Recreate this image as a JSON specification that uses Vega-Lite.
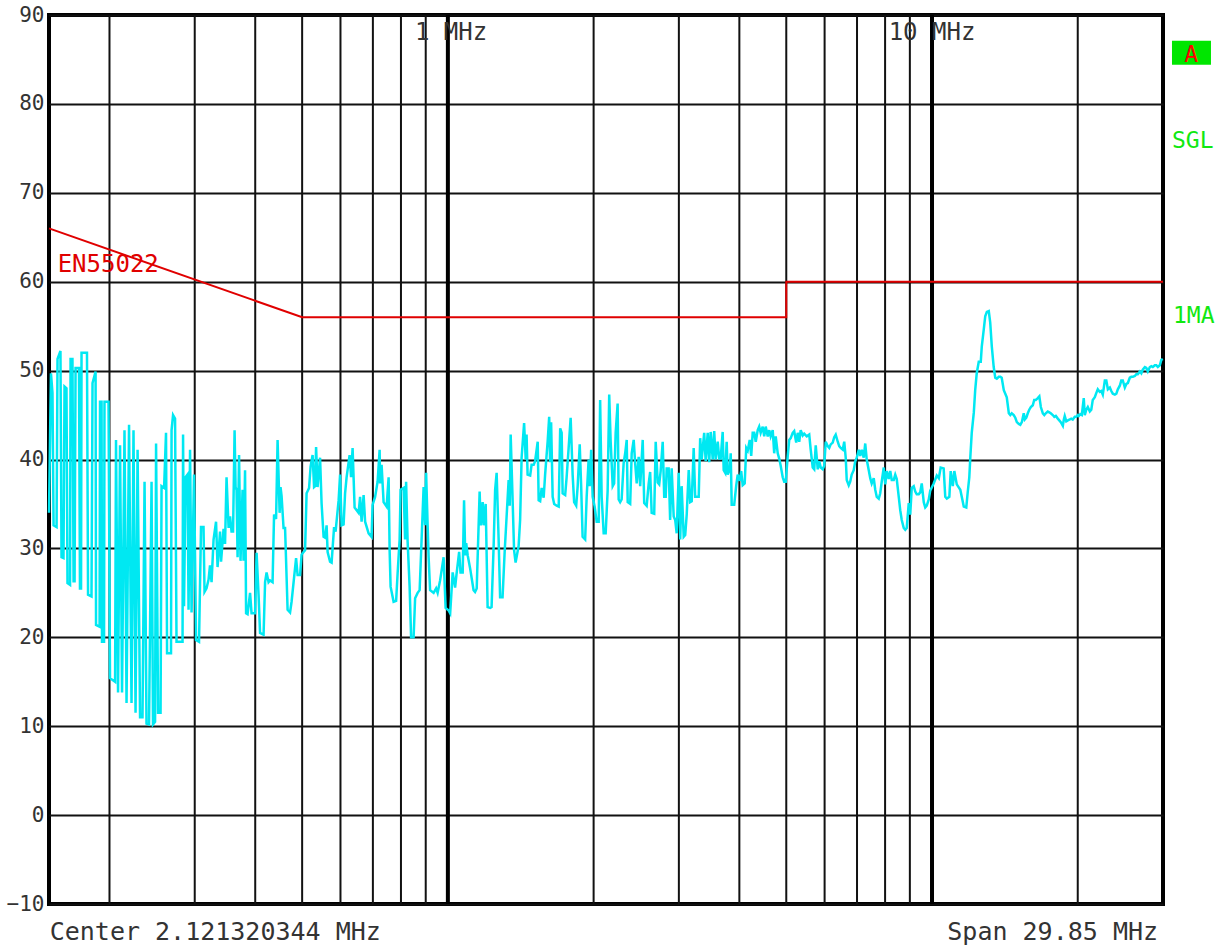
{
  "$schema": "https://vega.github.io/schema/vega-lite/v6.json",
  "width": 1114,
  "height": 889,
  "autosize": {"type": "none"},
  "padding": {"left": 49, "top": 15, "right": 63, "bottom": 45},
  "background": "white",
  "config": {"view": {"stroke": "#000", "strokeWidth": 4}, "font": "DejaVu Sans Mono"},
  "datasets": {
    "minor": [{"f":0.2},{"f":0.3},{"f":0.4},{"f":0.5},{"f":0.6},{"f":0.7},{"f":0.8},{"f":0.9},{"f":2},{"f":3},{"f":4},{"f":5},{"f":6},{"f":7},{"f":8},{"f":9},{"f":20}],
    "major": [{"f":1},{"f":10}],
    "limit": [{"i":0,"f":0.15,"v":66},{"i":1,"f":0.5,"v":56},{"i":2,"f":5,"v":56},{"i":3,"f":5,"v":60},{"i":4,"f":30,"v":60}],
    "trace": [
{"f":0.1500,"v":34.0},{"f":0.1514,"v":49.7},{"f":0.1525,"v":47.5},{"f":0.1533,"v":32.6},{"f":0.1555,"v":32.4},{"f":0.1562,"v":51.3},{"f":0.1584,"v":52.2},{"f":0.1592,"v":29.0},{"f":0.1607,"v":28.9},{"f":0.1615,"v":48.2},
{"f":0.1630,"v":48.0},{"f":0.1638,"v":26.1},{"f":0.1658,"v":25.9},{"f":0.1662,"v":51.3},{"f":0.1677,"v":51.3},{"f":0.1686,"v":26.3},{"f":0.1694,"v":26.3},{"f":0.1702,"v":50.3},{"f":0.1730,"v":50.3},{"f":0.1738,"v":25.5},
{"f":0.1747,"v":25.5},{"f":0.1751,"v":52.0},{"f":0.1797,"v":52.0},{"f":0.1806,"v":24.8},{"f":0.1836,"v":24.6},{"f":0.1845,"v":48.6},{"f":0.1872,"v":49.9},{"f":0.1876,"v":21.4},{"f":0.1908,"v":21.2},{"f":0.1912,"v":46.5},
{"f":0.1926,"v":46.5},{"f":0.1930,"v":19.5},{"f":0.1949,"v":19.5},{"f":0.1953,"v":46.5},{"f":0.1991,"v":46.5},{"f":0.2005,"v":15.4},{"f":0.2054,"v":15.0},{"f":0.2063,"v":42.2},{"f":0.2083,"v":13.8},{"f":0.2103,"v":41.6},
{"f":0.2123,"v":13.8},{"f":0.2148,"v":43.3},{"f":0.2169,"v":12.6},{"f":0.2195,"v":43.9},{"f":0.2221,"v":12.6},{"f":0.2242,"v":43.3},{"f":0.2264,"v":11.5},{"f":0.2286,"v":41.1},{"f":0.2313,"v":11.0},{"f":0.2340,"v":11.0},
{"f":0.2363,"v":37.5},{"f":0.2385,"v":10.3},{"f":0.2414,"v":10.2},{"f":0.2443,"v":37.5},{"f":0.2460,"v":10.2},{"f":0.2484,"v":10.5},{"f":0.2496,"v":41.8},{"f":0.2520,"v":11.5},{"f":0.2550,"v":11.5},{"f":0.2562,"v":37.0},
{"f":0.2593,"v":36.8},{"f":0.2617,"v":43.0},{"f":0.2630,"v":18.2},{"f":0.2680,"v":18.2},{"f":0.2687,"v":43.3},{"f":0.2706,"v":45.0},{"f":0.2732,"v":44.6},{"f":0.2751,"v":19.5},{"f":0.2831,"v":19.5},{"f":0.2838,"v":42.8},
{"f":0.2851,"v":23.5},{"f":0.2872,"v":38.0},{"f":0.2899,"v":38.3},{"f":0.2913,"v":23.1},{"f":0.2934,"v":41.1},{"f":0.2955,"v":22.8},{"f":0.2990,"v":38.3},{"f":0.3019,"v":19.7},{"f":0.3062,"v":19.5},{"f":0.3091,"v":32.4},
{"f":0.3128,"v":32.4},{"f":0.3143,"v":25.1},{"f":0.3173,"v":25.5},{"f":0.3204,"v":26.5},{"f":0.3226,"v":28.1},{"f":0.3250,"v":26.2},{"f":0.3281,"v":31.0},{"f":0.3320,"v":33.0},{"f":0.3344,"v":27.9},{"f":0.3384,"v":31.9},
{"f":0.3400,"v":28.5},{"f":0.3441,"v":32.2},{"f":0.3465,"v":30.5},{"f":0.3490,"v":38.0},{"f":0.3524,"v":32.3},{"f":0.3549,"v":33.6},{"f":0.3574,"v":31.9},{"f":0.3600,"v":31.9},{"f":0.3626,"v":43.3},{"f":0.3643,"v":36.9},
{"f":0.3660,"v":36.6},{"f":0.3678,"v":29.0},{"f":0.3704,"v":40.5},{"f":0.3730,"v":28.6},{"f":0.3766,"v":36.6},{"f":0.3784,"v":28.6},{"f":0.3811,"v":38.8},{"f":0.3830,"v":22.7},{"f":0.3857,"v":22.6},{"f":0.3903,"v":25.0},
{"f":0.3931,"v":22.7},{"f":0.3997,"v":22.7},{"f":0.4026,"v":29.5},{"f":0.4064,"v":24.8},{"f":0.4093,"v":20.5},{"f":0.4162,"v":20.3},{"f":0.4192,"v":26.2},{"f":0.4222,"v":27.3},{"f":0.4262,"v":26.2},{"f":0.4292,"v":26.4},
{"f":0.4344,"v":26.2},{"f":0.4375,"v":33.8},{"f":0.4417,"v":33.3},{"f":0.4449,"v":42.2},{"f":0.4492,"v":34.0},{"f":0.4512,"v":36.9},{"f":0.4534,"v":35.9},{"f":0.4577,"v":32.3},{"f":0.4610,"v":32.3},{"f":0.4666,"v":23.1},
{"f":0.4721,"v":22.8},{"f":0.4755,"v":24.0},{"f":0.4858,"v":28.9},{"f":0.4893,"v":27.0},{"f":0.4951,"v":27.0},{"f":0.4987,"v":29.3},{"f":0.5034,"v":29.6},{"f":0.5070,"v":29.8},{"f":0.5107,"v":36.2},{"f":0.5168,"v":36.8},
{"f":0.5205,"v":39.2},{"f":0.5255,"v":40.5},{"f":0.5292,"v":36.9},{"f":0.5318,"v":37.0},{"f":0.5343,"v":41.4},{"f":0.5381,"v":36.9},{"f":0.5445,"v":40.2},{"f":0.5484,"v":35.1},{"f":0.5537,"v":31.3},{"f":0.5577,"v":31.2},
{"f":0.5617,"v":32.6},{"f":0.5644,"v":29.6},{"f":0.5710,"v":28.5},{"f":0.5752,"v":28.4},{"f":0.5820,"v":32.4},{"f":0.5862,"v":31.9},{"f":0.5947,"v":35.4},{"f":0.5989,"v":38.3},{"f":0.6032,"v":32.6},{"f":0.6090,"v":32.7},
{"f":0.6133,"v":36.2},{"f":0.6177,"v":38.0},{"f":0.6266,"v":40.5},{"f":0.6310,"v":38.0},{"f":0.6356,"v":41.3},{"f":0.6386,"v":38.0},{"f":0.6417,"v":34.6},{"f":0.6540,"v":34.0},{"f":0.6587,"v":35.8},{"f":0.6634,"v":33.0},
{"f":0.6698,"v":36.0},{"f":0.6746,"v":33.0},{"f":0.6859,"v":31.7},{"f":0.6957,"v":31.3},{"f":0.6990,"v":34.9},{"f":0.7074,"v":35.8},{"f":0.7159,"v":37.5},{"f":0.7228,"v":41.1},{"f":0.7244,"v":37.3},{"f":0.7296,"v":39.4},
{"f":0.7366,"v":35.2},{"f":0.7472,"v":34.7},{"f":0.7544,"v":38.0},{"f":0.7580,"v":29.8},{"f":0.7615,"v":25.7},{"f":0.7725,"v":24.0},{"f":0.7818,"v":24.1},{"f":0.7874,"v":27.2},{"f":0.7949,"v":31.0},{"f":0.7986,"v":36.6},
{"f":0.8101,"v":36.8},{"f":0.8159,"v":31.0},{"f":0.8198,"v":37.5},{"f":0.8257,"v":30.8},{"f":0.8336,"v":25.7},{"f":0.8395,"v":20.0},{"f":0.8496,"v":20.0},{"f":0.8557,"v":24.4},{"f":0.8660,"v":25.0},{"f":0.8743,"v":25.3},
{"f":0.8825,"v":31.0},{"f":0.8910,"v":36.9},{"f":0.8974,"v":32.6},{"f":0.9017,"v":38.5},{"f":0.9082,"v":32.6},{"f":0.9125,"v":29.0},{"f":0.9189,"v":25.3},{"f":0.9344,"v":25.0},{"f":0.9456,"v":25.5},{"f":0.9524,"v":25.0},
{"f":0.9637,"v":26.4},{"f":0.9799,"v":29.0},{"f":0.9893,"v":23.3},{"f":1.004,"v":23.0},{"f":1.011,"v":22.7},{"f":1.023,"v":27.3},{"f":1.035,"v":25.6},{"f":1.042,"v":27.1},{"f":1.055,"v":29.6},{"f":1.062,"v":27.3},
{"f":1.073,"v":27.3},{"f":1.080,"v":35.4},{"f":1.086,"v":29.2},{"f":1.091,"v":30.6},{"f":1.099,"v":29.2},{"f":1.112,"v":27.7},{"f":1.130,"v":25.3},{"f":1.138,"v":25.1},{"f":1.147,"v":25.5},{"f":1.163,"v":36.4},
{"f":1.169,"v":32.6},{"f":1.180,"v":35.2},{"f":1.185,"v":32.6},{"f":1.197,"v":35.0},{"f":1.208,"v":23.4},{"f":1.223,"v":23.3},{"f":1.231,"v":23.4},{"f":1.243,"v":30.2},{"f":1.252,"v":36.6},{"f":1.261,"v":38.5},
{"f":1.273,"v":31.0},{"f":1.282,"v":24.5},{"f":1.297,"v":24.5},{"f":1.310,"v":29.6},{"f":1.322,"v":33.5},{"f":1.335,"v":37.7},{"f":1.342,"v":34.8},{"f":1.348,"v":42.8},{"f":1.361,"v":35.2},{"f":1.370,"v":29.8},
{"f":1.380,"v":28.4},{"f":1.400,"v":30.3},{"f":1.410,"v":33.2},{"f":1.420,"v":40.2},{"f":1.437,"v":44.1},{"f":1.448,"v":40.0},{"f":1.454,"v":42.8},{"f":1.461,"v":38.3},{"f":1.479,"v":38.2},{"f":1.489,"v":39.4},
{"f":1.504,"v":39.4},{"f":1.514,"v":39.8},{"f":1.533,"v":42.0},{"f":1.540,"v":35.4},{"f":1.551,"v":35.3},{"f":1.562,"v":36.8},{"f":1.577,"v":35.7},{"f":1.588,"v":38.3},{"f":1.607,"v":42.0},{"f":1.619,"v":44.8},
{"f":1.626,"v":39.7},{"f":1.634,"v":44.2},{"f":1.646,"v":35.8},{"f":1.658,"v":35.0},{"f":1.678,"v":34.8},{"f":1.694,"v":34.7},{"f":1.706,"v":43.5},{"f":1.718,"v":43.0},{"f":1.726,"v":36.2},{"f":1.747,"v":36.0},
{"f":1.759,"v":38.0},{"f":1.776,"v":41.3},{"f":1.793,"v":44.7},{"f":1.810,"v":38.3},{"f":1.823,"v":35.2},{"f":1.841,"v":34.8},{"f":1.854,"v":37.0},{"f":1.872,"v":41.7},{"f":1.885,"v":37.0},{"f":1.898,"v":31.3},
{"f":1.921,"v":31.0},{"f":1.935,"v":35.8},{"f":1.953,"v":40.0},{"f":1.963,"v":37.0},{"f":1.977,"v":41.1},{"f":1.991,"v":35.8},{"f":2.010,"v":34.7},{"f":2.029,"v":33.0},{"f":2.049,"v":33.0},{"f":2.063,"v":46.7},
{"f":2.078,"v":35.8},{"f":2.098,"v":31.7},{"f":2.118,"v":31.7},{"f":2.138,"v":36.5},{"f":2.154,"v":47.3},{"f":2.169,"v":42.0},{"f":2.190,"v":37.0},{"f":2.205,"v":37.3},{"f":2.221,"v":43.0},{"f":2.242,"v":46.3},
{"f":2.253,"v":35.5},{"f":2.269,"v":35.2},{"f":2.285,"v":35.5},{"f":2.307,"v":39.6},{"f":2.324,"v":40.7},{"f":2.341,"v":42.2},{"f":2.352,"v":35.2},{"f":2.380,"v":35.0},{"f":2.397,"v":40.7},{"f":2.420,"v":42.2},
{"f":2.437,"v":39.6},{"f":2.455,"v":37.3},{"f":2.478,"v":40.3},{"f":2.496,"v":37.0},{"f":2.526,"v":42.2},{"f":2.544,"v":35.1},{"f":2.574,"v":34.8},{"f":2.599,"v":37.3},{"f":2.617,"v":38.6},{"f":2.636,"v":34.0},
{"f":2.668,"v":33.9},{"f":2.687,"v":42.0},{"f":2.713,"v":37.4},{"f":2.732,"v":37.2},{"f":2.751,"v":38.7},{"f":2.778,"v":42.0},{"f":2.798,"v":35.8},{"f":2.818,"v":35.8},{"f":2.831,"v":39.0},{"f":2.858,"v":39.0},
{"f":2.878,"v":33.2},{"f":2.899,"v":39.0},{"f":2.927,"v":33.6},{"f":2.948,"v":33.2},{"f":2.969,"v":31.7},{"f":2.998,"v":38.5},{"f":3.019,"v":31.0},{"f":3.040,"v":37.0},{"f":3.070,"v":31.3},{"f":3.092,"v":31.5},
{"f":3.114,"v":33.8},{"f":3.144,"v":38.8},{"f":3.166,"v":35.2},{"f":3.189,"v":35.3},{"f":3.219,"v":41.3},{"f":3.242,"v":35.8},{"f":3.297,"v":35.8},{"f":3.320,"v":42.4},{"f":3.344,"v":40.0},{"f":3.384,"v":43.0},
{"f":3.408,"v":39.8},{"f":3.441,"v":43.0},{"f":3.466,"v":39.7},{"f":3.490,"v":43.1},{"f":3.524,"v":40.0},{"f":3.549,"v":43.2},{"f":3.574,"v":40.0},{"f":3.609,"v":42.0},{"f":3.635,"v":40.1},{"f":3.660,"v":40.1},
{"f":3.695,"v":43.1},{"f":3.713,"v":38.8},{"f":3.740,"v":38.5},{"f":3.766,"v":42.0},{"f":3.784,"v":38.3},{"f":3.821,"v":38.9},{"f":3.839,"v":40.7},{"f":3.857,"v":34.9},{"f":3.903,"v":34.9},{"f":3.941,"v":37.1},
{"f":3.969,"v":38.3},{"f":4.007,"v":37.6},{"f":4.035,"v":38.7},{"f":4.064,"v":37.1},{"f":4.103,"v":37.3},{"f":4.133,"v":41.3},{"f":4.162,"v":41.0},{"f":4.202,"v":42.2},{"f":4.232,"v":40.4},{"f":4.262,"v":43.0},
{"f":4.293,"v":43.0},{"f":4.324,"v":42.0},{"f":4.365,"v":43.3},{"f":4.396,"v":43.7},{"f":4.427,"v":43.0},{"f":4.470,"v":43.7},{"f":4.502,"v":42.6},{"f":4.534,"v":43.7},{"f":4.578,"v":42.6},{"f":4.611,"v":43.3},
{"f":4.643,"v":42.6},{"f":4.688,"v":43.3},{"f":4.721,"v":40.7},{"f":4.755,"v":42.6},{"f":4.801,"v":40.7},{"f":4.835,"v":40.1},{"f":4.869,"v":39.3},{"f":4.916,"v":38.0},{"f":4.951,"v":37.5},{"f":4.987,"v":37.5},
{"f":5.035,"v":40.4},{"f":5.071,"v":42.2},{"f":5.107,"v":42.4},{"f":5.155,"v":43.0},{"f":5.192,"v":43.2},{"f":5.242,"v":41.9},{"f":5.280,"v":43.0},{"f":5.318,"v":42.0},{"f":5.355,"v":43.3},{"f":5.407,"v":42.7},
{"f":5.445,"v":42.9},{"f":5.511,"v":42.6},{"f":5.577,"v":42.8},{"f":5.616,"v":41.1},{"f":5.670,"v":39.1},{"f":5.711,"v":38.9},{"f":5.752,"v":41.6},{"f":5.807,"v":38.9},{"f":5.849,"v":39.8},{"f":5.890,"v":39.1},
{"f":5.946,"v":38.9},{"f":5.989,"v":39.3},{"f":6.032,"v":42.0},{"f":6.090,"v":41.5},{"f":6.134,"v":41.3},{"f":6.177,"v":41.7},{"f":6.236,"v":41.9},{"f":6.281,"v":42.5},{"f":6.326,"v":42.8},{"f":6.387,"v":42.0},
{"f":6.432,"v":41.5},{"f":6.478,"v":41.3},{"f":6.540,"v":41.1},{"f":6.587,"v":42.0},{"f":6.634,"v":40.2},{"f":6.666,"v":37.7},{"f":6.730,"v":37.1},{"f":6.777,"v":37.5},{"f":6.826,"v":38.3},{"f":6.891,"v":38.8},
{"f":6.941,"v":39.8},{"f":6.991,"v":40.2},{"f":7.058,"v":41.1},{"f":7.107,"v":40.4},{"f":7.159,"v":41.1},{"f":7.227,"v":40.2},{"f":7.279,"v":41.8},{"f":7.331,"v":40.0},{"f":7.402,"v":38.8},{"f":7.454,"v":37.9},
{"f":7.507,"v":37.3},{"f":7.579,"v":37.9},{"f":7.634,"v":36.6},{"f":7.689,"v":35.8},{"f":7.762,"v":35.6},{"f":7.817,"v":36.2},{"f":7.873,"v":37.5},{"f":7.949,"v":39.1},{"f":8.006,"v":37.2},{"f":8.063,"v":38.7},
{"f":8.140,"v":37.8},{"f":8.198,"v":38.7},{"f":8.257,"v":37.7},{"f":8.336,"v":37.7},{"f":8.396,"v":38.3},{"f":8.456,"v":37.8},{"f":8.537,"v":35.8},{"f":8.597,"v":34.3},{"f":8.659,"v":33.2},{"f":8.742,"v":32.3},
{"f":8.805,"v":32.1},{"f":8.868,"v":32.3},{"f":8.953,"v":35.1},{"f":9.016,"v":33.8},{"f":9.081,"v":36.8},{"f":9.168,"v":37.0},{"f":9.234,"v":36.4},{"f":9.300,"v":36.1},{"f":9.389,"v":36.1},{"f":9.455,"v":36.3},
{"f":9.523,"v":37.3},{"f":9.615,"v":35.2},{"f":9.684,"v":34.6},{"f":9.753,"v":34.8},{"f":9.847,"v":35.5},{"f":9.916,"v":36.5},{"f":10.08,"v":37.3},{"f":10.23,"v":38.2},{"f":10.33,"v":37.9},{"f":10.42,"v":39.1},
{"f":10.57,"v":39.0},{"f":10.65,"v":35.8},{"f":10.73,"v":35.6},{"f":10.86,"v":35.8},{"f":10.93,"v":38.7},{"f":11.04,"v":37.0},{"f":11.12,"v":38.7},{"f":11.25,"v":37.2},{"f":11.44,"v":36.6},{"f":11.52,"v":35.8},
{"f":11.63,"v":34.7},{"f":11.77,"v":34.6},{"f":11.85,"v":36.3},{"f":11.94,"v":38.0},{"f":12.00,"v":40.3},{"f":12.08,"v":43.0},{"f":12.20,"v":45.3},{"f":12.28,"v":47.8},{"f":12.37,"v":49.7},{"f":12.49,"v":51.0},
{"f":12.61,"v":51.0},{"f":12.67,"v":52.7},{"f":12.79,"v":54.6},{"f":12.88,"v":56.1},{"f":12.98,"v":56.6},{"f":13.10,"v":56.7},{"f":13.19,"v":55.4},{"f":13.29,"v":52.7},{"f":13.41,"v":50.4},{"f":13.51,"v":49.2},
{"f":13.61,"v":49.1},{"f":13.74,"v":49.3},{"f":13.84,"v":49.3},{"f":13.93,"v":49.2},{"f":14.07,"v":47.8},{"f":14.17,"v":47.4},{"f":14.27,"v":47.0},{"f":14.41,"v":45.2},{"f":14.51,"v":45.0},{"f":14.61,"v":45.2},
{"f":14.75,"v":45.0},{"f":14.86,"v":44.7},{"f":14.97,"v":44.2},{"f":15.11,"v":44.0},{"f":15.22,"v":43.9},{"f":15.33,"v":44.2},{"f":15.47,"v":45.2},{"f":15.55,"v":44.5},{"f":15.66,"v":44.7},{"f":15.77,"v":45.2},
{"f":15.88,"v":45.6},{"f":16.00,"v":45.9},{"f":16.15,"v":46.1},{"f":16.26,"v":46.7},{"f":16.38,"v":46.7},{"f":16.54,"v":46.9},{"f":16.66,"v":47.1},{"f":16.78,"v":45.9},{"f":16.94,"v":45.2},{"f":17.06,"v":45.0},
{"f":17.18,"v":45.2},{"f":17.34,"v":45.4},{"f":17.47,"v":45.3},{"f":17.59,"v":45.2},{"f":17.76,"v":45.0},{"f":17.89,"v":44.8},{"f":18.02,"v":44.9},{"f":18.19,"v":44.6},{"f":18.32,"v":44.4},{"f":18.45,"v":44.2},
{"f":18.63,"v":43.8},{"f":18.72,"v":44.5},{"f":18.80,"v":44.9},{"f":18.94,"v":44.3},{"f":19.08,"v":44.4},{"f":19.26,"v":44.5},{"f":19.39,"v":44.6},{"f":19.53,"v":44.5},{"f":19.72,"v":44.8},{"f":19.86,"v":44.8},
{"f":20.01,"v":45.0},{"f":20.10,"v":44.9},{"f":20.24,"v":45.1},{"f":20.39,"v":45.0},{"f":20.58,"v":46.9},{"f":20.68,"v":45.0},{"f":20.83,"v":45.6},{"f":20.98,"v":45.9},{"f":21.18,"v":45.4},{"f":21.33,"v":45.6},
{"f":21.48,"v":46.7},{"f":21.69,"v":47.0},{"f":21.85,"v":47.5},{"f":22.00,"v":47.9},{"f":22.21,"v":47.6},{"f":22.37,"v":47.7},{"f":22.53,"v":47.3},{"f":22.75,"v":48.9},{"f":22.91,"v":48.9},{"f":23.08,"v":47.9},
{"f":23.30,"v":48.1},{"f":23.46,"v":47.7},{"f":23.63,"v":47.4},{"f":23.86,"v":47.3},{"f":24.03,"v":47.4},{"f":24.20,"v":47.9},{"f":24.43,"v":48.3},{"f":24.60,"v":48.9},{"f":24.78,"v":48.9},{"f":25.02,"v":48.1},
{"f":25.20,"v":48.5},{"f":25.38,"v":48.6},{"f":25.62,"v":49.2},{"f":25.80,"v":49.3},{"f":25.99,"v":49.3},{"f":26.24,"v":49.4},{"f":26.42,"v":49.6},{"f":26.61,"v":49.6},{"f":26.87,"v":49.9},{"f":27.06,"v":49.7},
{"f":27.25,"v":50.1},{"f":27.52,"v":50.4},{"f":27.71,"v":50.3},{"f":27.91,"v":49.9},{"f":28.18,"v":50.4},{"f":28.38,"v":50.5},{"f":28.58,"v":50.4},{"f":28.86,"v":50.6},{"f":29.06,"v":50.6},{"f":29.27,"v":50.4},
{"f":29.55,"v":50.6},{"f":29.76,"v":51.2},{"f":29.97,"v":51.3}
    ]
  },
  "layer": [
    {
      "data": {"name": "minor"},
      "mark": {"type": "rule", "color": "#111", "strokeWidth": 2},
      "encoding": {
        "x": {"field": "f", "type": "quantitative", "scale": {"type": "log", "domain": [0.15, 30], "nice": false}, "axis": null}
      }
    },
    {
      "data": {"name": "major"},
      "mark": {"type": "rule", "color": "#000", "strokeWidth": 4},
      "encoding": {
        "x": {"field": "f", "type": "quantitative", "axis": null}
      }
    },
    {
      "data": {"name": "limit"},
      "mark": {"type": "line", "color": "#e00000", "strokeWidth": 2},
      "encoding": {
        "x": {"field": "f", "type": "quantitative", "axis": null},
        "y": {"field": "v", "type": "quantitative", "scale": {"domain": [-10, 90], "nice": false, "zero": false},
              "axis": {"values": [-10,0,10,20,30,40,50,60,70,80,90], "grid": true, "gridColor": "#111", "gridWidth": 2, "gridOpacity": 1,
                       "domain": false, "ticks": false, "labelFontSize": 21, "labelColor": "#333", "labelPadding": 5, "labelFont": "DejaVu Sans Mono", "title": null}},
        "order": {"field": "i"}
      }
    },
    {
      "data": {"name": "trace"},
      "mark": {"type": "line", "color": "#00e8f2", "strokeWidth": 2.5},
      "encoding": {
        "x": {"field": "f", "type": "quantitative", "axis": null},
        "y": {"field": "v", "type": "quantitative"}
      }
    },
    {
      "data": {"values": [{"f": 31.31, "f2": 37.69, "v": 87.1, "v2": 84.4}]},
      "mark": {"type": "rect", "color": "#00e600"},
      "encoding": {
        "x": {"field": "f", "type": "quantitative", "axis": null},
        "x2": {"field": "f2"},
        "y": {"field": "v", "type": "quantitative"},
        "y2": {"field": "v2"}
      }
    },
    {
      "data": {"values": [{"t": "A", "f": 34.3, "v": 84.75}]},
      "mark": {"type": "text", "color": "#ff0000", "fontSize": 23, "align": "center", "baseline": "alphabetic", "font": "DejaVu Sans Mono"},
      "encoding": {
        "x": {"field": "f", "type": "quantitative", "axis": null},
        "y": {"field": "v", "type": "quantitative"},
        "text": {"field": "t"}
      }
    },
    {
      "data": {"values": [{"t": "SGL", "f": 31.31, "v": 75.0}, {"t": "1MA", "f": 31.46, "v": 55.4}]},
      "mark": {"type": "text", "color": "#11e811", "fontSize": 23, "align": "left", "baseline": "alphabetic", "font": "DejaVu Sans Mono"},
      "encoding": {
        "x": {"field": "f", "type": "quantitative", "axis": null},
        "y": {"field": "v", "type": "quantitative"},
        "text": {"field": "t"}
      }
    },
    {
      "data": {"values": [{"t": "EN55022", "f": 0.1563, "v": 61.1}]},
      "mark": {"type": "text", "color": "#e00000", "fontSize": 24, "align": "left", "baseline": "alphabetic", "font": "DejaVu Sans Mono"},
      "encoding": {
        "x": {"field": "f", "type": "quantitative", "axis": null},
        "y": {"field": "v", "type": "quantitative"},
        "text": {"field": "t"}
      }
    },
    {
      "data": {"values": [{"t": "1 MHz", "f": 1.015, "v": 87.2}, {"t": "10 MHz", "f": 10.0, "v": 87.2}]},
      "mark": {"type": "text", "color": "#333", "fontSize": 24, "align": "center", "baseline": "alphabetic", "font": "DejaVu Sans Mono"},
      "encoding": {
        "x": {"field": "f", "type": "quantitative", "axis": null},
        "y": {"field": "v", "type": "quantitative"},
        "text": {"field": "t"}
      }
    },
    {
      "data": {"values": [{"t": "Center 2.121320344 MHz", "f": 0.1505, "v": -14.05}]},
      "mark": {"type": "text", "color": "#333", "fontSize": 25, "align": "left", "baseline": "alphabetic", "font": "DejaVu Sans Mono"},
      "encoding": {
        "x": {"field": "f", "type": "quantitative", "axis": null},
        "y": {"field": "v", "type": "quantitative"},
        "text": {"field": "t"}
      }
    },
    {
      "data": {"values": [{"t": "Span 29.85 MHz", "f": 29.3, "v": -14.05}]},
      "mark": {"type": "text", "color": "#333", "fontSize": 25, "align": "right", "baseline": "alphabetic", "font": "DejaVu Sans Mono"},
      "encoding": {
        "x": {"field": "f", "type": "quantitative", "axis": null},
        "y": {"field": "v", "type": "quantitative"},
        "text": {"field": "t"}
      }
    }
  ]
}
